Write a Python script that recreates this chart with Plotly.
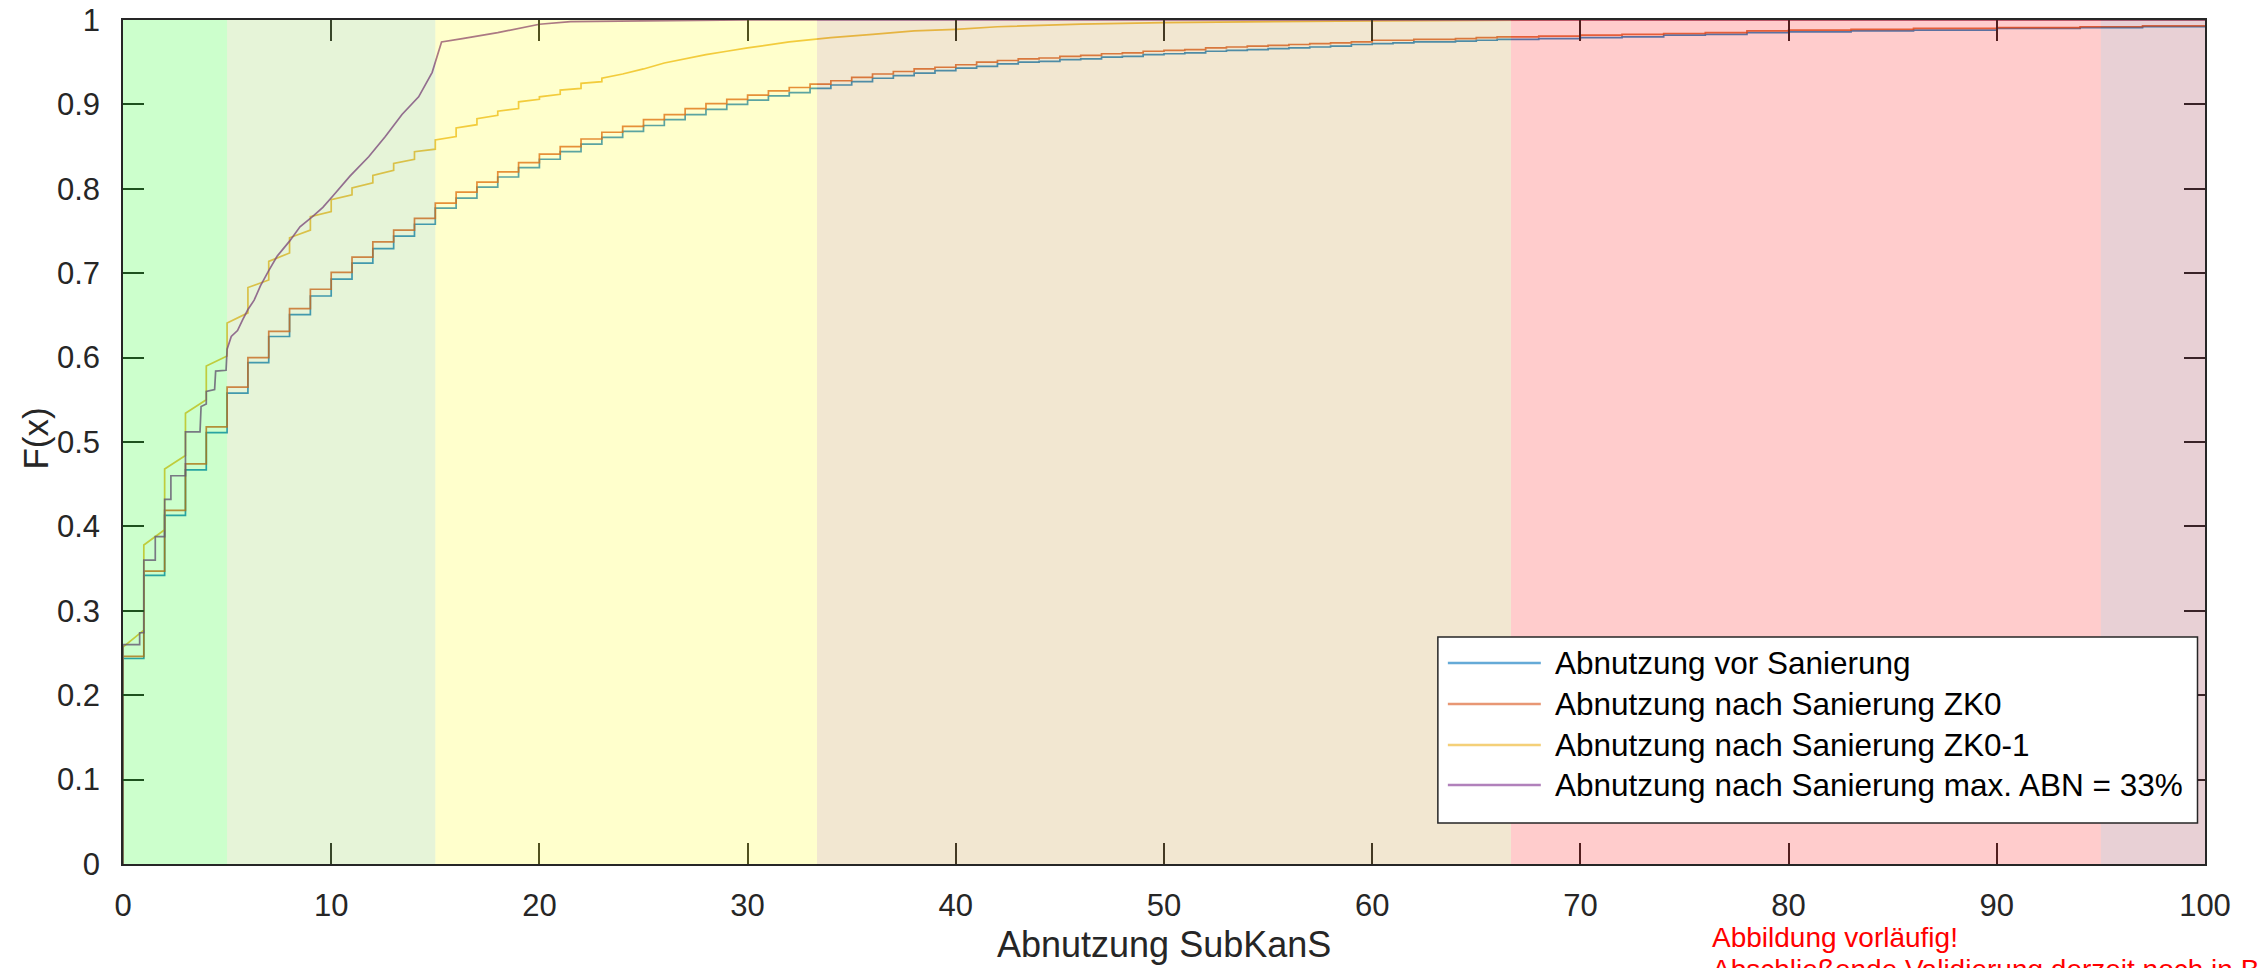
import plotly.graph_objects as go

# ---- data -------------------------------------------------------------
# empirical CDF levels of "Abnutzung vor Sanierung" (value after each step)
vor_x = [0, 1, 2, 3, 4, 5, 6, 7, 8, 9, 10, 11, 12, 13, 14, 15, 16, 17, 18, 19,
         20, 21, 22, 23, 24, 25, 26, 27, 28, 29, 30, 31, 32, 33, 34, 35, 36, 37,
         38, 39, 40, 41, 42, 43, 44, 45, 46, 47, 48, 49, 50, 51, 52, 53, 54, 55,
         56, 57, 58, 59, 60, 61, 62, 63, 64, 65, 66, 67, 68, 69, 70, 72, 74, 76,
         78, 80, 83, 86, 90, 94, 97, 100]
vor_f = [0.2435, 0.342, 0.413, 0.467, 0.511, 0.558, 0.594, 0.625, 0.651, 0.673,
         0.693, 0.712, 0.729, 0.744, 0.758, 0.777, 0.789, 0.802, 0.814, 0.825,
         0.835, 0.844, 0.853, 0.861, 0.868, 0.875, 0.882, 0.888, 0.894, 0.900,
         0.905, 0.910, 0.914, 0.919, 0.923, 0.927, 0.931, 0.934, 0.937, 0.940,
         0.943, 0.945, 0.948, 0.950, 0.951, 0.953, 0.954, 0.956, 0.957, 0.959,
         0.960, 0.961, 0.963, 0.964, 0.965, 0.966, 0.967, 0.968, 0.969, 0.971,
         0.972, 0.973, 0.974, 0.974, 0.975, 0.976, 0.977, 0.977, 0.978, 0.978,
         0.979, 0.980, 0.982, 0.983, 0.985, 0.986, 0.987, 0.988, 0.990, 0.991,
         0.992, 0.993]

# "Abnutzung nach Sanierung ZK0"
zk0_x = vor_x
zk0_f = [0.246, 0.347, 0.419, 0.474, 0.518, 0.565, 0.600, 0.631, 0.658, 0.681,
         0.701, 0.719, 0.737, 0.751, 0.765, 0.783, 0.796, 0.808, 0.820, 0.831,
         0.841, 0.850, 0.859, 0.867, 0.874, 0.882, 0.888, 0.895, 0.901, 0.906,
         0.911, 0.916, 0.920, 0.924, 0.928, 0.932, 0.936, 0.939, 0.942, 0.944,
         0.947, 0.950, 0.952, 0.954, 0.955, 0.957, 0.958, 0.960, 0.961, 0.963,
         0.964, 0.965, 0.967, 0.968, 0.969, 0.970, 0.971, 0.972, 0.973, 0.974,
         0.976, 0.976, 0.977, 0.977, 0.978, 0.979, 0.980, 0.980, 0.981, 0.981,
         0.982, 0.983, 0.984, 0.985, 0.987, 0.988, 0.989, 0.990, 0.991, 0.992,
         0.993, 0.994]

# "Abnutzung nach Sanierung ZK0-1": jump at each integer, then a gentle rise
zk01_k = list(range(0, 23))
zk01_after = [0.257, 0.378, 0.468, 0.534, 0.590, 0.641, 0.683, 0.714, 0.742,
              0.767, 0.787, 0.801, 0.816, 0.830, 0.844, 0.858, 0.872, 0.883,
              0.892, 0.903, 0.909, 0.917, 0.925]
zk01_before_next = [0.277, 0.396, 0.484, 0.550, 0.602, 0.653, 0.692, 0.724,
                    0.751, 0.773, 0.793, 0.807, 0.822, 0.835, 0.847, 0.862,
                    0.876, 0.887, 0.895, 0.906, 0.912, 0.919, 0.927]
zk01_tail_x = [23, 24, 25, 26, 27, 28, 29, 30, 32, 34, 36, 38, 40, 42, 46, 50,
               60, 70, 100]
zk01_tail_f = [0.931, 0.936, 0.942, 0.949, 0.954, 0.959, 0.963, 0.967, 0.974,
               0.979, 0.983, 0.987, 0.989, 0.992, 0.995, 0.997, 0.999, 1.0, 1.0]

# "Abnutzung nach Sanierung max. ABN = 33%"
abn33_x = [0, 0, 0.8, 0.8, 1, 1, 1.55, 1.55, 2, 2, 2.3, 2.3, 3, 3, 3.7, 3.75, 4,
           4, 4.4, 4.45, 4.95, 5, 5.2, 5.5, 5.75, 6.0, 6.3, 6.6, 7.0, 7.4, 8.0,
           8.5, 9.1, 9.6, 10.1, 10.9, 11.8, 12.6, 13.4, 14.2, 14.85, 15.0, 15.3,
           16.3, 18.0, 20.0, 21.5, 25, 30, 100]
abn33_f = [0, 0.26, 0.26, 0.274, 0.274, 0.36, 0.36, 0.388, 0.388, 0.432, 0.432,
           0.46, 0.46, 0.512, 0.512, 0.542, 0.545, 0.56, 0.562, 0.584, 0.585,
           0.61, 0.625, 0.632, 0.645, 0.657, 0.668, 0.685, 0.703, 0.72, 0.738,
           0.755, 0.767, 0.778, 0.792, 0.815, 0.838, 0.862, 0.888, 0.909, 0.938,
           0.95, 0.974, 0.978, 0.985, 0.995, 0.998, 0.999, 1.0, 1.0]

series_names = ["Abnutzung vor Sanierung", "Abnutzung nach Sanierung ZK0",
                "Abnutzung nach Sanierung ZK0-1",
                "Abnutzung nach Sanierung max. ABN = 33%"]
series_colors = ["#0072BD", "#D95319", "#EDB120", "#7E2F8E"]

# condition classes along the x axis (semi-transparent overlays)
band_edges = [0, 5, 15, 100 / 3, 200 / 3, 95, 100]
band_colors = ["rgb(0,255,0)", "rgb(130,200,60)", "rgb(255,255,0)",
               "rgb(190,135,25)", "rgb(255,0,0)", "rgb(140,20,45)"]

x_ticks = list(range(0, 101, 10))
y_ticks = [round(0.1 * i, 1) for i in range(11)]
y_tick_text = ["0", "0.1", "0.2", "0.3", "0.4", "0.5", "0.6", "0.7", "0.8",
               "0.9", "1"]

# ---- assemble ZK0-1 polyline from its jumps ---------------------------
zk01_x, zk01_f = [0], [0]
for k, a, b in zip(zk01_k, zk01_after, zk01_before_next):
    zk01_x += [k, k + 1]
    zk01_f += [a, b]
zk01_x += zk01_tail_x
zk01_f += zk01_tail_f

# ---- figure -----------------------------------------------------------
FONT = "Liberation Sans, Arial, Helvetica, sans-serif"
TXT = "#262626"
W, H = 2259, 968
L, R, T, B = 122.5, 53.5, 20, 104

fig = go.Figure()
curves = [([0] + vor_x, [0] + vor_f, "hv"),
          ([0] + zk0_x, [0] + zk0_f, "hv"),
          (zk01_x, zk01_f, "linear"),
          (abn33_x, abn33_f, "linear")]
for (cx, cy, shp), name, col in zip(curves, series_names, series_colors):
    fig.add_trace(go.Scatter(x=cx, y=cy, mode="lines", name=name,
                             line=dict(color=col, width=1.7, shape=shp),
                             opacity=0.8, showlegend=False))

shapes = []
for x0, x1, c in zip(band_edges[:-1], band_edges[1:], band_colors):
    shapes.append(dict(type="rect", xref="x", yref="y", x0=x0, x1=x1, y0=0, y1=1,
                       fillcolor=c, opacity=0.2, line=dict(width=0),
                       layer="above"))

# legend box drawn in paper coordinates
pw, ph = W - L - R, H - T - B
def px(v):
    return (v - L) / pw
def py(v):
    return (H - B - v) / ph

shapes.append(dict(type="rect", xref="paper", yref="paper",
                   x0=px(1438), x1=px(2198), y0=py(823), y1=py(637),
                   fillcolor="white", line=dict(color=TXT, width=1.5),
                   layer="above"))
row_y = [663, 704, 745, 785]
annotations = []
for name, col, ry in zip(series_names, series_colors, row_y):
    shapes.append(dict(type="line", xref="paper", yref="paper",
                       x0=px(1448), x1=px(1541), y0=py(ry), y1=py(ry),
                       line=dict(color=col, width=2.5), opacity=0.6,
                       layer="above"))
    annotations.append(dict(text=name, xref="paper", yref="paper", x=px(1553),
                            y=py(ry), xanchor="left", yanchor="middle",
                            showarrow=False,
                            font=dict(family=FONT, size=31.5, color="#000000")))

# axis titles
annotations.append(dict(text="F(x)", xref="paper", yref="paper", x=px(34),
                        y=py(439), xanchor="center", yanchor="middle",
                        textangle=-90, showarrow=False,
                        font=dict(family=FONT, size=35, color=TXT)))
annotations.append(dict(text="Abnutzung SubKanS", xref="paper", yref="paper",
                        x=0.5, y=py(944), xanchor="center", yanchor="middle",
                        showarrow=False,
                        font=dict(family=FONT, size=36, color=TXT)))

annotations.append(dict(text="Abbildung vorläufig!", xref="paper", yref="paper",
                        x=px(1710), y=py(937), xanchor="left", yanchor="middle",
                        showarrow=False,
                        font=dict(family=FONT, size=28, color="#FF0000")))
annotations.append(dict(text="Abschließende Validierung derzeit noch in Bearbeitung",
                        xref="paper", yref="paper", x=px(1710), y=py(969),
                        xanchor="left", yanchor="middle", showarrow=False,
                        font=dict(family=FONT, size=28, color="#FF0000")))

axis_common = dict(showline=True, linecolor=TXT, linewidth=1.6, mirror="ticks",
                   ticks="inside", ticklen=21, tickwidth=1.6, tickcolor=TXT,
                   showgrid=False, zeroline=False, automargin=False,
                   tickfont=dict(family=FONT, size=31, color=TXT))

fig.update_layout(
    width=W, height=H,
    margin=dict(l=L, r=R, t=T, b=B, pad=0, autoexpand=False),
    paper_bgcolor="white", plot_bgcolor="white",
    showlegend=False,
    shapes=shapes, annotations=annotations,
    xaxis=dict(range=[0, 100], tickvals=x_ticks, ticklabelstandoff=13,
               **axis_common),
    yaxis=dict(range=[0, 1], tickvals=y_ticks, ticktext=y_tick_text,
               ticklabelstandoff=15, **axis_common),
)

fig.write_html("out.html")
